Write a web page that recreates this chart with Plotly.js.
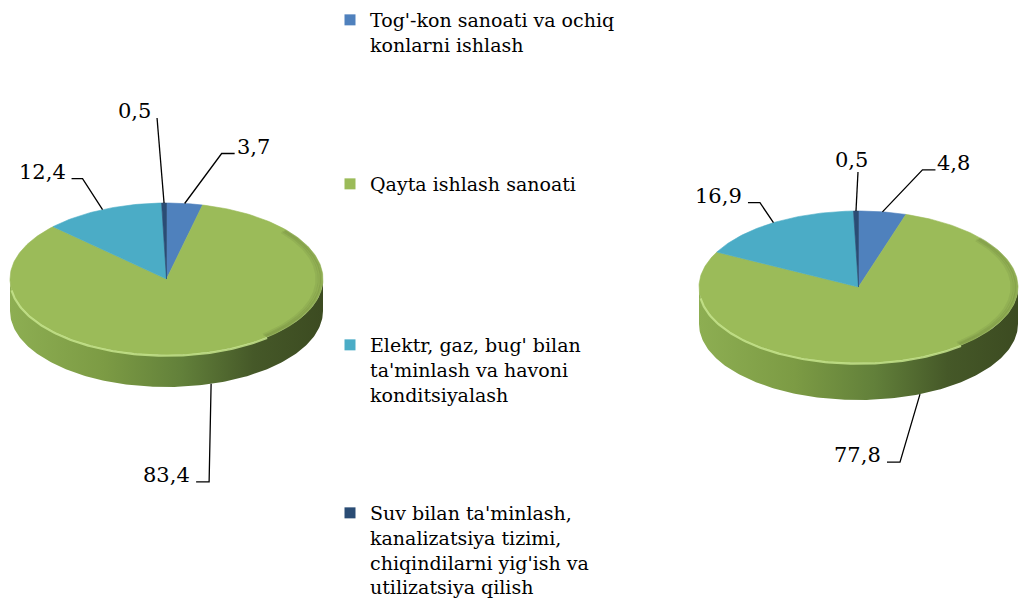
<!DOCTYPE html>
<html>
<head>
<meta charset="utf-8">
<script src="https://cdn.plot.ly/plotly-3.0.1.min.js"></script>
<style>html,body{margin:0;padding:0;background:#fff;}#chart{width:1019px;height:603px;}</style>
</head>
<body>
<div id="chart"></div>
<script>
// ---- data ----
const categories = [
  "Tog'-kon sanoati va ochiq konlarni ishlash",
  "Qayta ishlash sanoati",
  "Elektr, gaz, bug' bilan ta'minlash va havoni konditsiyalash",
  "Suv bilan ta'minlash, kanalizatsiya tizimi, chiqindilarni yig'ish va utilizatsiya qilish"
];
const legendLabels = [
  "Tog'-kon sanoati va ochiq<br>konlarni ishlash",
  "Qayta ishlash sanoati",
  "Elektr, gaz, bug' bilan<br>ta'minlash va havoni<br>konditsiyalash",
  "Suv bilan ta'minlash,<br>kanalizatsiya tizimi,<br>chiqindilarni yig'ish va<br>utilizatsiya qilish"
];
const valuesLeft = [3.7, 83.4, 12.4, 0.5];
const valuesRight = [4.8, 77.8, 16.9, 0.5];

// ---- styles / layout ----
const colors = ['#4F81BD', '#9BBB59', '#4BACC6', '#2A4C74'];
const W = 1019, H = 603;
const serif = 'DejaVu Serif';

const pies = [
  {values: valuesLeft, cx: 166.5, cy: 279, rx: 156.5, ry: 76, depth: 32,
   labels: [
     {dx: 37, dy: -50, h: 13, side: 'right'},
     {dx: -2, dy: 98, h: -13, side: 'left'},
     {dx: -20, dy: -31, h: -11, side: 'left'},
     {dx: -7, dy: -85, h: 0, side: 'left'}
   ]},
  {values: valuesRight, cx: 858.5, cy: 287, rx: 159.5, ry: 76, depth: 37,
   labels: [
     {dx: 40, dy: -42, h: 13, side: 'right'},
     {dx: -20, dy: 68, h: -13, side: 'left'},
     {dx: -13.5, dy: -20, h: -12, side: 'left'},
     {dx: 2, dy: -39, h: 0, side: 'top'}
   ]}
];

function pt(p, deg, drop) {
  const r = deg * Math.PI / 180;
  return [p.cx + p.rx * Math.sin(r), p.cy - p.ry * Math.cos(r) + (drop || 0)];
}
function arc(p, a0, a1, drop, shrink) {
  const n = Math.max(2, Math.ceil(Math.abs(a1 - a0)));
  const xs = [], ys = [];
  const q0 = shrink ? Object.assign({}, p, {rx: p.rx - shrink, ry: p.ry - shrink * p.ry / p.rx}) : p;
  for (let i = 0; i <= n; i++) {
    const q = pt(q0, a0 + (a1 - a0) * i / n, drop);
    xs.push(q[0]); ys.push(q[1]);
  }
  return [xs, ys];
}

const traces = [];
const annotations = [];

pies.forEach(p => {
  // side wall (front half)
  const top = arc(p, 90, 270, 0);
  const bot = arc(p, 270, 90, p.depth);
  traces.push({
    type: 'scatter', mode: 'lines', x: top[0].concat(bot[0]), y: top[1].concat(bot[1]),
    fill: 'toself', line: {width: 0, color: 'rgba(0,0,0,0)'},
    fillgradient: {type: 'horizontal', colorscale: [[0, '#8DAE52'], [0.3, '#7C9B44'], [0.55, '#62803A'], [0.78, '#455828'], [1, '#3C4B21']]},
    showlegend: false, hoverinfo: 'skip'
  });
  // top slices
  const total = p.values.reduce((a, b) => a + b, 0);
  let start = 0;
  p.values.forEach((v, i) => {
    const a0 = start / total * 360, a1 = (start + v) / total * 360;
    const a = arc(p, a0, a1, 0);
    traces.push({
      type: 'scatter', mode: 'lines',
      x: [p.cx].concat(a[0], [p.cx]), y: [p.cy].concat(a[1], [p.cy]),
      fill: 'toself', fillcolor: colors[i], line: {width: 0.6, color: colors[i]},
      name: categories[i], showlegend: false, hoverinfo: 'skip'
    });
    // data label with leader line
    const mid = (a0 + a1) / 2;
    const front = mid > 90 && mid < 270;
    const anchor = pt(p, mid, front ? p.depth : 0);
    const L = p.labels[i];
    const knee = [anchor[0] + L.dx, anchor[1] + L.dy];
    const end = [knee[0] + L.h, knee[1]];
    traces.push({
      type: 'scatter', mode: 'lines', x: [anchor[0], knee[0], end[0]], y: [anchor[1], knee[1], end[1]],
      line: {color: '#000', width: 1.3}, showlegend: false, hoverinfo: 'skip'
    });
    const txt = v.toFixed(1).replace('.', ',');
    const ann = {x: end[0], y: end[1], text: txt, showarrow: false, xref: 'x', yref: 'y',
                 font: {family: serif, size: 21, color: '#000'}, yanchor: 'bottom', yshift: -7};
    if (L.side === 'right') { ann.xanchor = 'left'; ann.xshift = 0; }
    else if (L.side === 'left') { ann.xanchor = 'right'; ann.xshift = -4; }
    else { ann.xanchor = 'center'; ann.xshift = -6; ann.yshift = -2.4; }
    annotations.push(ann);
    start += v;
  });
  // soft dark shading along the right part of the top rim
  [[6, 0.08], [3.5, 0.1], [1.5, 0.12]].forEach(s => {
    const sh = arc(p, 50, 140, 0, s[0]);
    traces.push({type: 'scatter', mode: 'lines', x: sh[0], y: sh[1],
      line: {color: 'rgba(55,70,30,' + s[1] + ')', width: 3}, showlegend: false, hoverinfo: 'skip'});
  });
  // light rim highlight on front edge
  const hl = arc(p, 262, 140, 0.8);
  traces.push({type: 'scatter', mode: 'lines', x: hl[0], y: hl[1],
    line: {color: 'rgba(198,228,140,0.85)', width: 2.2}, showlegend: false, hoverinfo: 'skip'});
});

// legend-only traces
const legendNames = ['legend', 'legend2', 'legend3', 'legend4'];
categories.forEach((c, i) => {
  traces.push({type: 'scatter', mode: 'markers', x: [null], y: [null], name: legendLabels[i],
    marker: {symbol: 'square', size: 11, color: colors[i]}, legend: legendNames[i], showlegend: true, hoverinfo: 'skip'});
});

const legendTops = [1, 165, 326, 494];
const legendBase = {xref: 'paper', yref: 'paper', xanchor: 'left', yanchor: 'top', bgcolor: 'rgba(0,0,0,0)',
  font: {family: serif, size: 19, color: '#000'}, valign: 'top', itemclick: false, itemdoubleclick: false};

const layout = {
  width: W, height: H, margin: {l: 0, r: 0, t: 0, b: 0, autoexpand: false},
  font: {family: serif},
  paper_bgcolor: '#fff', plot_bgcolor: '#fff',
  xaxis: {range: [0, W], visible: false, fixedrange: true},
  yaxis: {range: [H, 0], visible: false, fixedrange: true},
  showlegend: true,
  annotations: annotations
};
legendNames.forEach((ln, i) => {
  layout[ln] = Object.assign({}, legendBase, {x: 330 / W, y: 1 - legendTops[i] / H});
});

Plotly.newPlot('chart', traces, layout, {displayModeBar: false, staticPlot: true});
</script>
</body>
</html>
